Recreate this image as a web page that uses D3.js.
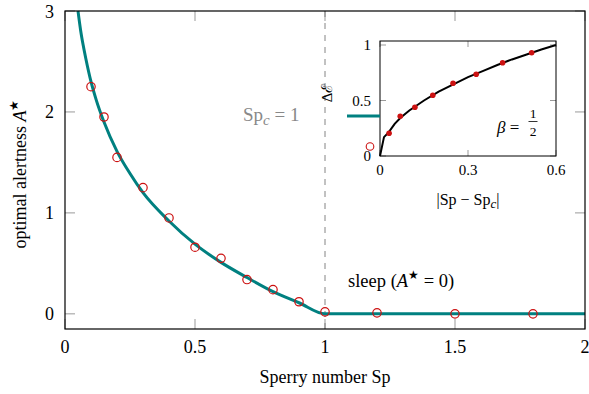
<!DOCTYPE html>
<html><head><meta charset="utf-8">
<script src="https://cdn.jsdelivr.net/npm/d3@7"></script>
<style>body{margin:0;background:#fff}svg{display:block}text{font-family:"Liberation Serif","Times New Roman",serif}</style>
</head><body><svg id="c" width="589" height="394"></svg>
<script>
// Main chart: theory curve
const curveSp = [0.05,0.06,0.07,0.08,0.1,0.12,0.15,0.2,0.25,0.3,0.4,0.5,0.6,0.7,0.8,0.9,1.0,2.0];
const curveA  = [3.0,2.81,2.66,2.53,2.30,2.12,1.90,1.61,1.39,1.20,0.92,0.69,0.51,0.36,0.22,0.11,0,0];
// Main chart: simulation markers
const dataSp = [0.1,0.15,0.2,0.3,0.4,0.5,0.6,0.7,0.8,0.9,1.0,1.2,1.5,1.8];
const dataA  = [2.25,1.95,1.55,1.25,0.95,0.66,0.55,0.34,0.24,0.12,0.02,0.01,0.0,0.0];
const xTicks = [0,0.5,1,1.5,2];
const yTicks = [0,1,2,3];
// Inset: scaling curve and points
const inCurveX = [0,0.0136,0.03,0.05,0.07,0.1,0.15,0.2,0.25,0.3,0.35,0.4,0.45,0.5,0.55,0.6];
const inCurveY = [0,0.17,0.215,0.29,0.345,0.41,0.50,0.58,0.645,0.71,0.765,0.82,0.87,0.915,0.96,1.0];
const inDataX = [0.031,0.069,0.119,0.18,0.249,0.328,0.418,0.517];
const inDataY = [0.205,0.358,0.439,0.547,0.655,0.736,0.84,0.93];
const inXTicks = [0,0.3,0.6];
const inYTicks = [0,0.5,1];

const svg = d3.select("#c");
const teal = "#008080", red = "#cc1111", tickGray = "#999";

// ---- main
const L=65,R=585,T=11,B=329;
const x = d3.scaleLinear().domain([0,2]).range([L,R]);
const y = d3.scaleLinear().domain([-0.15,3]).range([B,T]);

const tl = 10;
xTicks.forEach(v=>{
  svg.append("line").attr("x1",x(v)).attr("x2",x(v)).attr("y1",B).attr("y2",B-tl).attr("stroke",tickGray);
  svg.append("line").attr("x1",x(v)).attr("x2",x(v)).attr("y1",T).attr("y2",T+tl).attr("stroke",tickGray);
  svg.append("text").attr("x",x(v)).attr("y",B+24).attr("text-anchor","middle").attr("font-size",18).text(v);
});
yTicks.forEach(v=>{
  svg.append("line").attr("x1",L).attr("x2",L+tl).attr("y1",y(v)).attr("y2",y(v)).attr("stroke",tickGray);
  svg.append("line").attr("x1",R).attr("x2",R-tl).attr("y1",y(v)).attr("y2",y(v)).attr("stroke",tickGray);
  svg.append("text").attr("x",L-11).attr("y",y(v)+6.5).attr("text-anchor","end").attr("font-size",18).text(v);
});

svg.append("line").attr("x1",x(1)).attr("x2",x(1)).attr("y1",T).attr("y2",B)
  .attr("stroke","#777").attr("stroke-width",0.9).attr("stroke-dasharray","6,6");

const line = d3.line().x(d=>x(d[0])).y(d=>y(d[1])).curve(d3.curveMonotoneX);
svg.append("path").datum(curveSp.map((s,i)=>[s,curveA[i]])).attr("d",line)
  .attr("fill","none").attr("stroke",teal).attr("stroke-width",3);

svg.selectAll("circle.m").data(dataSp.map((s,i)=>[s,dataA[i]])).enter().append("circle")
  .attr("cx",d=>x(d[0])).attr("cy",d=>y(d[1])).attr("r",4.2)
  .attr("fill","none").attr("stroke",red).attr("stroke-width",1.2);

svg.append("rect").attr("x",L).attr("y",T).attr("width",R-L).attr("height",B-T)
  .attr("fill","none").attr("stroke","#000").attr("stroke-width",1.2);

// annotations
const spc = svg.append("text").attr("x",243).attr("y",121).attr("font-size",19).attr("fill","#888");
spc.append("tspan").text("Sp");
spc.append("tspan").attr("font-style","italic").attr("font-size",15).attr("dy",4).text("c");
spc.append("tspan").attr("dy",-4).text(" = 1");

const sl = svg.append("text").attr("x",348).attr("y",287).attr("font-size",18.5);
sl.append("tspan").text("sleep (");
sl.append("tspan").attr("font-style","italic").text("A");
sl.append("tspan").attr("font-size",12).attr("dy",-8).text("★");
sl.append("tspan").attr("dy",8).text(" = 0)");

svg.append("text").attr("x",x(1)).attr("y",383).attr("text-anchor","middle").attr("font-size",18).text("Sperry number Sp");
const yl = svg.append("text").attr("transform","translate(26,174) rotate(-90)")
  .attr("text-anchor","middle").attr("font-size",18);
yl.append("tspan").text("optimal alertness ");
yl.append("tspan").attr("font-style","italic").text("A");
yl.append("tspan").attr("font-size",12).attr("dy",-8).text("★");

// ---- inset
const iL=380,iR=556,iT=41,iB=156;
const ix = d3.scaleLinear().domain([0,0.6]).range([iL,iR]);
const iy = d3.scaleLinear().domain([0,1]).range([iB,45]);
svg.append("rect").attr("x",iL).attr("y",iT).attr("width",iR-iL).attr("height",iB-iT).attr("fill","#fff");
const itl=6;
inXTicks.forEach(v=>{
  svg.append("line").attr("x1",ix(v)).attr("x2",ix(v)).attr("y1",iB).attr("y2",iB-itl).attr("stroke",tickGray);
  svg.append("line").attr("x1",ix(v)).attr("x2",ix(v)).attr("y1",iT).attr("y2",iT+itl).attr("stroke",tickGray);
  svg.append("text").attr("x",ix(v)).attr("y",iB+19).attr("text-anchor","middle").attr("font-size",15).text(v);
});
inYTicks.forEach(v=>{
  svg.append("line").attr("x1",iL).attr("x2",iL+itl).attr("y1",iy(v)).attr("y2",iy(v)).attr("stroke",tickGray);
  svg.append("line").attr("x1",iR).attr("x2",iR-itl).attr("y1",iy(v)).attr("y2",iy(v)).attr("stroke",tickGray);
  svg.append("text").attr("x",iL-9).attr("y",iy(v)+5).attr("text-anchor","end").attr("font-size",15).text(v);
});
const iline = d3.line().x(d=>ix(d[0])).y(d=>iy(d[1]));
svg.append("path").datum(inCurveX.map((s,i)=>[s,inCurveY[i]])).attr("d",iline)
  .attr("fill","none").attr("stroke","#000").attr("stroke-width",2);
svg.selectAll("circle.i").data(inDataX.map((s,i)=>[s,inDataY[i]])).enter().append("circle")
  .attr("cx",d=>ix(d[0])).attr("cy",d=>iy(d[1])).attr("r",2.8).attr("fill",red);
svg.append("rect").attr("x",iL).attr("y",iT).attr("width",iR-iL).attr("height",iB-iT)
  .attr("fill","none").attr("stroke","#000").attr("stroke-width",1);

svg.append("line").attr("x1",347).attr("x2",iL).attr("y1",116).attr("y2",116).attr("stroke",teal).attr("stroke-width",3);
svg.append("circle").attr("cx",370).attr("cy",146.5).attr("r",3.8).attr("fill","none").attr("stroke",red).attr("stroke-width",1.1);

const il = svg.append("text").attr("x",ix(0.3)).attr("y",205).attr("text-anchor","middle").attr("font-size",16);
il.append("tspan").text("|Sp − Sp");
il.append("tspan").attr("font-style","italic").attr("font-size",13).attr("dy",3).text("c");
il.append("tspan").attr("dy",-3).text("|");
svg.append("text").attr("transform","translate(332,93) rotate(-90)").attr("text-anchor","middle")
  .attr("font-size",15).text("Δℰ");
const bt = svg.append("text").attr("x",497).attr("y",133).attr("font-size",17);
bt.append("tspan").attr("font-style","italic").text("β");
bt.append("tspan").text(" = ");
svg.append("text").attr("x",533).attr("y",118).attr("text-anchor","middle").attr("font-size",13.5).text("1");
svg.append("line").attr("x1",528.5).attr("x2",537.5).attr("y1",121.5).attr("y2",121.5).attr("stroke","#000").attr("stroke-width",0.8);
svg.append("text").attr("x",533).attr("y",135.5).attr("text-anchor","middle").attr("font-size",13.5).text("2");
</script></body></html>
